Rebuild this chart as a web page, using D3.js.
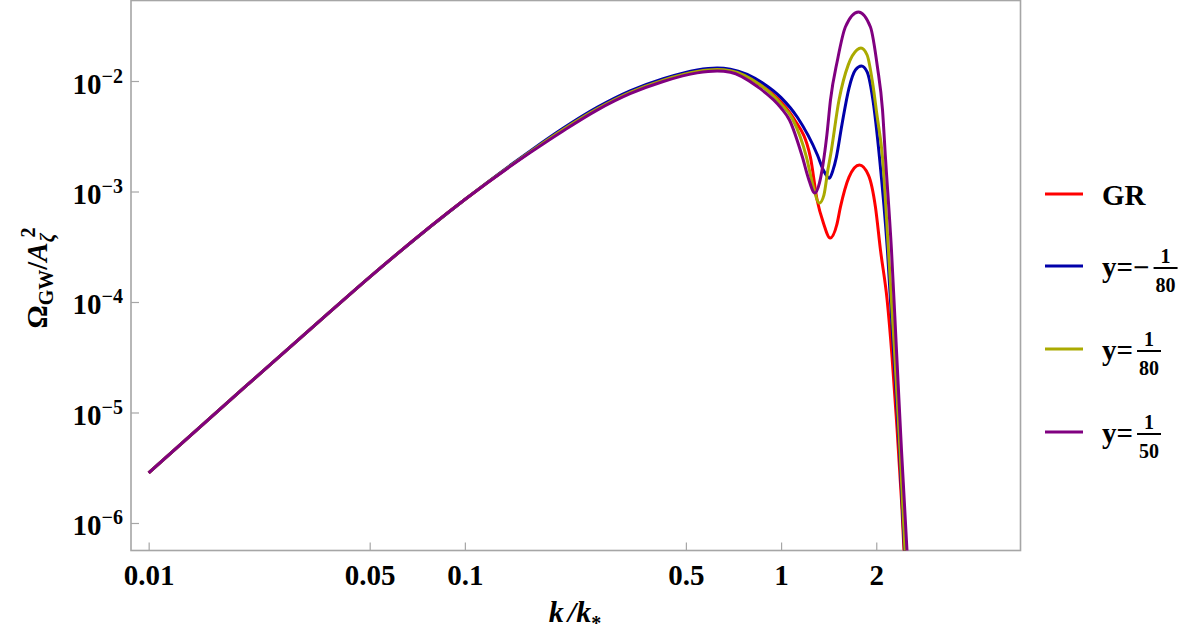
<!DOCTYPE html>
<html>
<head>
<meta charset="utf-8">
<script src="https://d3js.org/d3.v7.min.js"></script>
<style>
  body { margin: 0; background: #fff; }
  svg text { font-family: "Liberation Serif", "Times New Roman", serif; font-weight: bold; fill: #000; }
</style>
</head>
<body>
<svg id="chart" width="1200" height="640"></svg>
<script>
// ---- data ----
var xTicks = [0.01, 0.05, 0.1, 0.5, 1, 2];
var xTickLabels = ["0.01", "0.05", "0.1", "0.5", "1", "2"];
var yTicks = [1e-2, 1e-3, 1e-4, 1e-5, 1e-6];
var yTickExps = ["\u22122", "\u22123", "\u22124", "\u22125", "\u22126"];

var kGR = [0.01,0.02,0.0375,0.05,0.1,0.161,0.205,0.262,0.333,0.424,0.543,0.628,0.691,0.863,1.0,1.094,1.238,1.30,1.361,1.43,1.50,1.541,1.64,1.769,1.889,1.988,2.062,2.165,2.245,2.317,2.403,2.465];
var omegaGR = [2.84e-6,1.67e-5,8.18e-5,1.68e-4,8.46e-4,2.29e-3,3.66e-3,5.60e-3,7.90e-3,1.02e-2,1.22e-2,1.27e-2,1.24e-2,9.2e-3,6.45e-3,4.62e-3,2.05e-3,8.37e-4,5.19e-4,3.79e-4,4.98e-4,7.25e-4,1.35e-3,1.74e-3,1.41e-3,7.25e-4,2.96e-4,1.04e-4,3.11e-5,8.55e-6,1.61e-6,3.76e-7];

var kNeg80 = [0.01,0.02,0.0375,0.05,0.1,0.161,0.205,0.262,0.333,0.424,0.543,0.628,0.691,0.879,1.0,1.126,1.303,1.36,1.421,1.46,1.496,1.557,1.64,1.719,1.795,1.871,1.952,2.047,2.169,2.267,2.368,2.456,2.519];
var omegaNeg80 = [2.84e-6,1.67e-5,8.18e-5,1.68e-4,8.46e-4,2.33e-3,3.75e-3,5.77e-3,8.14e-3,1.05e-2,1.26e-2,1.31e-2,1.28e-2,9.51e-3,7.08e-3,4.70e-3,2.14e-3,1.57e-3,1.32e-3,1.57e-3,2.05e-3,4.0e-3,8.64e-3,1.26e-2,1.37e-2,1.21e-2,6.73e-3,2.05e-3,2.96e-4,3.68e-5,4.58e-6,5.70e-7,1.63e-7];

var kPos80 = [0.01,0.02,0.0375,0.05,0.1,0.161,0.205,0.262,0.333,0.424,0.543,0.628,0.691,0.860,1.0,1.086,1.203,1.26,1.322,1.366,1.406,1.434,1.525,1.631,1.738,1.789,1.871,1.952,2.010,2.093,2.185,2.283,2.377,2.465,2.52];
var omegaPos80 = [2.84e-6,1.67e-5,8.18e-5,1.68e-4,8.46e-4,2.29e-3,3.66e-3,5.60e-3,7.90e-3,1.02e-2,1.22e-2,1.27e-2,1.24e-2,9.2e-3,6.19e-3,4.55e-3,2.05e-3,1.15e-3,7.87e-4,9.29e-4,1.57e-3,2.14e-3,6.73e-3,1.40e-2,1.91e-2,1.99e-2,1.72e-2,9.2e-3,4.92e-3,2.05e-3,2.96e-4,3.68e-5,4.58e-6,5.70e-7,2.0e-7];

var kPos50 = [0.01,0.02,0.0375,0.05,0.1,0.161,0.205,0.262,0.333,0.424,0.543,0.628,0.691,0.841,1.0,1.063,1.168,1.220,1.279,1.322,1.356,1.396,1.433,1.508,1.597,1.756,1.917,2.017,2.093,2.138,2.234,2.317,2.403,2.501,2.547];
var omegaPos50 = [2.84e-6,1.67e-5,8.18e-5,1.68e-4,8.46e-4,2.25e-3,3.55e-3,5.45e-3,7.67e-3,9.9e-3,1.185e-2,1.23e-2,1.20e-2,8.91e-3,5.70e-3,4.44e-3,2.05e-3,1.32e-3,9.68e-4,1.19e-3,1.74e-3,3.25e-3,6.73e-3,1.55e-2,3.08e-2,4.21e-2,3.08e-2,1.34e-2,5.47e-3,2.05e-3,2.96e-4,3.68e-5,4.58e-6,5.70e-7,2.0e-7];

var seriesColors = ["#ff0000", "#0000aa", "#aaaa00", "#800080"];
var legendPrefix = ["GR", "y=\u2212", "y=", "y="];
var legendNum = [null, "1", "1", "1"];
var legendDen = [null, "80", "80", "50"];

// ---- layout ----
var svg = d3.select("#chart");
var plotLeft = 131, plotRight = 1020.5, plotTop = 0.5, plotBottom = 550.5;

var x = d3.scaleLog().domain([0.008793, 5.717]).range([plotLeft, plotRight]);
var y = d3.scaleLog().domain([5.637e-7, 0.05353]).range([plotBottom, plotTop]);

var frameColor = "#a6a6a6";

// clip for curves
svg.append("defs").append("clipPath").attr("id", "plotclip")
    .append("rect")
    .attr("x", plotLeft).attr("y", plotTop)
    .attr("width", plotRight - plotLeft).attr("height", plotBottom - plotTop);

// x axis (ticks point inward)
var gx = svg.append("g")
    .attr("transform", "translate(0," + plotBottom + ")")
    .call(d3.axisBottom(x).tickValues(xTicks)
        .tickSizeInner(-8).tickSizeOuter(0)
        .tickFormat(function(d, i){ return xTickLabels[i]; }));
gx.select(".domain").remove();
gx.selectAll(".tick line").attr("stroke", frameColor).attr("stroke-width", 1.2);
gx.selectAll(".tick text")
    .attr("y", 34).attr("dy", 0)
    .attr("font-size", "29px")
    .attr("font-family", null);

// y axis
var gy = svg.append("g")
    .attr("transform", "translate(" + plotLeft + ",0)")
    .call(d3.axisLeft(y).tickValues(yTicks)
        .tickSizeInner(-8).tickSizeOuter(0)
        .tickFormat(function(){ return ""; }));
gy.select(".domain").remove();
gy.selectAll(".tick line").attr("stroke", frameColor).attr("stroke-width", 1.2);
gy.selectAll(".tick text").each(function(d, i){
    var t = d3.select(this)
        .attr("x", -8).attr("dy", 0).attr("y", 12)
        .attr("font-size", "29px")
        .attr("font-family", null)
        .attr("text-anchor", "end");
    t.text(null);
    t.append("tspan").text("10");
    t.append("tspan").attr("font-size", "20px").attr("dy", -11).text(yTickExps[i]);
});

// frame
svg.append("rect")
    .attr("x", plotLeft).attr("y", plotTop)
    .attr("width", plotRight - plotLeft).attr("height", plotBottom - plotTop)
    .attr("fill", "none")
    .attr("stroke", frameColor)
    .attr("stroke-width", 1.6);

// curves
var line = d3.line()
    .x(function(d){ return x(d[0]); })
    .y(function(d){ return y(d[1]); })
    .curve(d3.curveMonotoneX);

var allSeries = [
    d3.zip(kGR, omegaGR),
    d3.zip(kNeg80, omegaNeg80),
    d3.zip(kPos80, omegaPos80),
    d3.zip(kPos50, omegaPos50)
];

svg.append("g").attr("clip-path", "url(#plotclip)")
    .selectAll("path")
    .data(allSeries)
    .enter().append("path")
    .attr("d", line)
    .attr("fill", "none")
    .attr("stroke", function(d, i){ return seriesColors[i]; })
    .attr("stroke-width", 3)
    .attr("stroke-linejoin", "round");

// axis labels
var xl = svg.append("text")
    .attr("x", 575).attr("y", 622)
    .attr("text-anchor", "middle")
    .attr("font-size", "30px");
xl.append("tspan").attr("font-style", "italic").text("k");
xl.append("tspan").attr("font-style", "italic").attr("dx", 4).text("/k");
xl.append("tspan").attr("font-size", "20px").attr("dy", 8).text("*");

var yl = svg.append("text")
    .attr("transform", "translate(47,278) rotate(-90)")
    .attr("text-anchor", "middle")
    .attr("font-size", "29px");
yl.append("tspan").text("\u03A9");
yl.append("tspan").attr("font-size", "20px").attr("dy", 6).text("GW");
yl.append("tspan").attr("dy", -6).text("/");
yl.append("tspan").attr("font-style", "italic").text("A");
yl.append("tspan").attr("font-style", "italic").attr("font-size", "20px").attr("dy", 7).text("\u03B6");
yl.append("tspan").attr("font-size", "20px").attr("dx", -4).attr("dy", -19).text("2");

// legend
var legendY = [194, 266, 349, 432];
var lg = svg.append("g");
legendY.forEach(function(ly, i){
    lg.append("line")
        .attr("x1", 1045).attr("x2", 1083)
        .attr("y1", ly).attr("y2", ly)
        .attr("stroke", seriesColors[i])
        .attr("stroke-width", 3);
    var t = lg.append("text")
        .attr("x", 1102).attr("y", ly + 11)
        .attr("font-size", "29px")
        .text(legendPrefix[i]);
    if (legendNum[i]) {
        var w = t.node().getComputedTextLength();
        var fx = 1102 + w + 4, fw = 24, cx = fx + fw / 2;
        lg.append("line")
            .attr("x1", fx).attr("x2", fx + fw)
            .attr("y1", ly + 2).attr("y2", ly + 2)
            .attr("stroke", "#000").attr("stroke-width", 2);
        lg.append("text")
            .attr("x", cx).attr("y", ly - 3)
            .attr("text-anchor", "middle")
            .attr("font-size", "20px")
            .text(legendNum[i]);
        lg.append("text")
            .attr("x", cx).attr("y", ly + 26)
            .attr("text-anchor", "middle")
            .attr("font-size", "20px")
            .text(legendDen[i]);
    }
});
</script>
</body>
</html>
